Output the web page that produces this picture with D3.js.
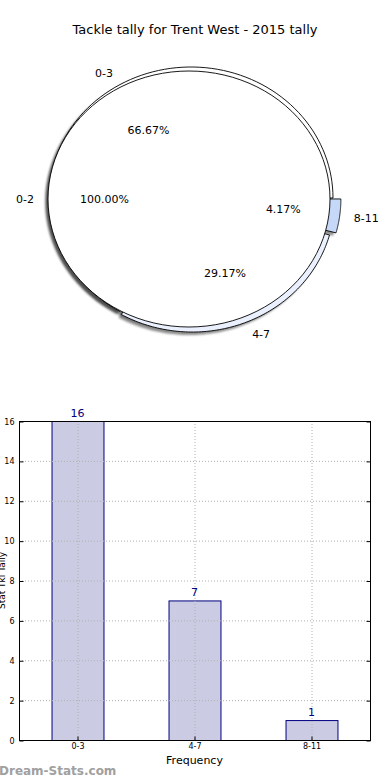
<!DOCTYPE html>
<html>
<head>
<meta charset="utf-8">
<script src="https://cdn.jsdelivr.net/npm/d3@7"></script>
<style>
  body { margin: 0; background: #fff; }
  svg { display: block; font-family: "DejaVu Sans", sans-serif; }
</style>
</head>
<body>
<script>
// data
const title = "Tackle tally for Trent West - 2015 tally";
const outerCats = ["0-3", "4-7", "8-11"];
const outerVals = [16, 7, 1];
const outerColors = ["#ffffff", "#eaf0fd", "#c6d8f7"];
const outerExplode = [0, 0.025, 0.056];
const innerCats = ["0-2"];
const innerVals = [24];
const barCats = ["0-3", "4-7", "8-11"];
const barVals = [16, 7, 1];
const yTicks = [0, 2, 4, 6, 8, 10, 12, 14, 16];

const width = 390, height = 780;

const svg = d3.select("body").append("svg")
  .attr("width", width).attr("height", height);

svg.append("text")
  .attr("x", 195).attr("y", 34)
  .attr("text-anchor", "middle")
  .attr("font-size", 13)
  .text(title);

// ---------- pie (elliptical, like a non-equal aspect axes) ----------
const defs = svg.append("defs");
defs.append("filter").attr("id", "blur")
  .append("feGaussianBlur").attr("stdDeviation", 1.2);

// angles: start at 3 o'clock, counter-clockwise (matplotlib style)
function pieAngles(vals) {
  const total = d3.sum(vals);
  let a = 0;
  return vals.map(v => {
    const s = a;
    a += v / total * 2 * Math.PI;
    return { start: s, end: a, mid: (s + a) / 2, frac: v / total };
  });
}

function wedgePath(cx, cy, rx, ry, a0, a1) {
  const pts = d3.range(0, 101).map(i => {
    const a = a0 + (a1 - a0) * i / 100;
    return [cx + rx * Math.cos(a), cy - ry * Math.sin(a)];
  });
  const full = (a1 - a0) >= 2 * Math.PI - 1e-6;
  if (full) return d3.line()(pts) + "Z";
  return d3.line()([[cx, cy], ...pts]) + "Z";
}

const outer = { cx: 191, cy: 198, rx: 142, ry: 131 };
const inner = { cx: 189, cy: 199, rx: 141, ry: 128 };

const outerA = pieAngles(outerVals);
const innerA = pieAngles(innerVals);

const pieG = svg.append("g");
const shadowG = pieG.append("g").attr("filter", "url(#blur)");

function drawShadow(p, angs, explode) {
  angs.forEach((d, i) => {
    const e = explode ? explode[i] : 0;
    const dx = e * p.rx * Math.cos(d.mid), dy = -e * p.ry * Math.sin(d.mid);
    shadowG.append("path")
      .attr("d", wedgePath(p.cx + dx - 3, p.cy + dy + 3, p.rx, p.ry, d.start, d.end))
      .attr("fill", "#000").attr("opacity", 0.45);
  });
}
drawShadow(outer, outerA, outerExplode);
drawShadow(inner, innerA, null);

function drawPie(p, angs, cats, colors, explode) {
  angs.forEach((d, i) => {
    const e = explode ? explode[i] : 0;
    const dx = e * p.rx * Math.cos(d.mid), dy = -e * p.ry * Math.sin(d.mid);
    const cx = p.cx + dx, cy = p.cy + dy;
    pieG.append("path")
      .attr("d", wedgePath(cx, cy, p.rx, p.ry, d.start, d.end))
      .attr("fill", colors[i])
      .attr("stroke", "#000").attr("stroke-width", 0.9)
      .attr("stroke-linejoin", "miter");
  });
}
function drawLabels(p, angs, cats, explode) {
  angs.forEach((d, i) => {
    const e = explode ? explode[i] : 0;
    const cx = p.cx + e * p.rx * Math.cos(d.mid), cy = p.cy - e * p.ry * Math.sin(d.mid);
    const lx = cx + 1.1 * p.rx * Math.cos(d.mid), ly = cy - 1.1 * p.ry * Math.sin(d.mid);
    pieG.append("text")
      .attr("x", lx).attr("y", ly)
      .attr("dy", "0.35em")
      .attr("text-anchor", Math.cos(d.mid) > 0 ? "start" : "end")
      .attr("font-size", 11)
      .text(cats[i]);
    const px = cx + 0.6 * p.rx * Math.cos(d.mid), py = cy - 0.6 * p.ry * Math.sin(d.mid);
    pieG.append("text")
      .attr("x", px).attr("y", py)
      .attr("dy", "0.35em")
      .attr("text-anchor", "middle")
      .attr("font-size", 11)
      .text((d.frac * 100).toFixed(2) + "%");
  });
}
drawPie(outer, outerA, outerCats, outerColors, outerExplode);
drawPie(inner, innerA, innerCats, ["#ffffff"], null);
drawLabels(outer, outerA, outerCats, outerExplode);
drawLabels(inner, innerA, innerCats, null);

// ---------- bar chart ----------
const plot = { left: 19, right: 370, top: 421, bottom: 740 };

const xScale = d3.scaleBand()
  .domain(barCats)
  .range([plot.left, plot.right])
  .paddingInner(0.556)
  .paddingOuter(0.278);

const yScale = d3.scaleLinear()
  .domain([0, 16])
  .range([plot.bottom, plot.top]);

const grid = svg.append("g")
  .attr("stroke", "#b0b0b0")
  .attr("stroke-width", 1)
  .attr("stroke-dasharray", "1,2");

grid.selectAll(".gy").data(yTicks).enter().append("line")
  .attr("x1", plot.left).attr("x2", plot.right)
  .attr("y1", d => yScale(d) + 0.5).attr("y2", d => yScale(d) + 0.5);

grid.selectAll(".gx").data(barCats).enter().append("line")
  .attr("x1", d => xScale(d) + xScale.bandwidth() / 2 + 0.5)
  .attr("x2", d => xScale(d) + xScale.bandwidth() / 2 + 0.5)
  .attr("y1", plot.top).attr("y2", plot.bottom);

svg.selectAll(".bar").data(barVals).enter().append("rect")
  .attr("x", (d, i) => xScale(barCats[i]) + 0.5)
  .attr("y", d => yScale(d) + 0.5)
  .attr("width", xScale.bandwidth())
  .attr("height", d => plot.bottom - yScale(d))
  .attr("fill", "#cbcce3")
  .attr("stroke", "#000080")
  .attr("stroke-width", 1);

// grid lines visible through bars
grid.raise();

svg.selectAll(".val").data(barVals).enter().append("text")
  .attr("x", (d, i) => xScale(barCats[i]) + xScale.bandwidth() / 2)
  .attr("y", d => yScale(d) - 4)
  .attr("text-anchor", "middle")
  .attr("font-size", 11)
  .attr("fill", "#000080")
  .text(d => d);

// frame
svg.append("rect")
  .attr("x", plot.left + 0.5).attr("y", plot.top + 0.5)
  .attr("width", plot.right - plot.left).attr("height", plot.bottom - plot.top)
  .attr("fill", "none").attr("stroke", "#000").attr("stroke-width", 1);

// axes (ticks inward like matplotlib)
const yAxis = svg.append("g")
  .attr("transform", `translate(${plot.left + 0.5},0.5)`)
  .call(d3.axisLeft(yScale).tickValues(yTicks).tickSize(-4).tickPadding(5));
yAxis.select(".domain").remove();
yAxis.selectAll("text").attr("font-size", 8).attr("font-family", "DejaVu Sans");

const yAxisR = svg.append("g")
  .attr("transform", `translate(${plot.right + 0.5},0.5)`)
  .call(d3.axisRight(yScale).tickValues(yTicks).tickSize(-4).tickFormat(""));
yAxisR.select(".domain").remove();

const xAxis = svg.append("g")
  .attr("transform", `translate(0.5,${plot.bottom + 0.5})`)
  .call(d3.axisBottom(xScale).tickSize(-4).tickPadding(3));
xAxis.select(".domain").remove();
xAxis.selectAll("text").attr("font-size", 8).attr("font-family", "DejaVu Sans");

svg.append("text")
  .attr("x", (plot.left + plot.right) / 2).attr("y", 764)
  .attr("text-anchor", "middle")
  .attr("font-size", 11)
  .text("Frequency");

svg.append("text")
  .attr("transform", `translate(2,${(plot.top + plot.bottom) / 2}) rotate(-90)`)
  .attr("text-anchor", "middle")
  .attr("dy", "0.35em")
  .attr("font-size", 9)
  .text("Stat Tkl Tally");

svg.append("text")
  .attr("x", -1).attr("y", 775)
  .attr("font-size", 12)
  .attr("font-weight", "bold")
  .attr("fill", "#a0a0a0")
  .text("Dream-Stats.com");
</script>
</body>
</html>
